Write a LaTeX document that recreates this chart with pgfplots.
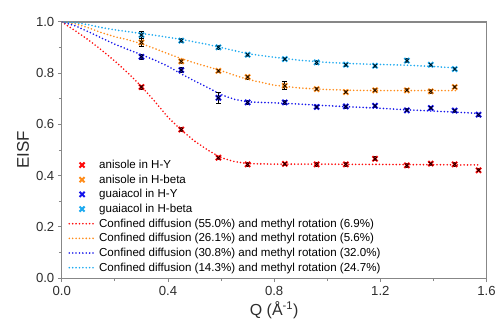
\documentclass[border=0pt]{standalone}
\usepackage{pgfplots}
\usepackage{pgfplotstable}
\pgfplotsset{compat=1.18}
\usepackage{fontspec}
\setmainfont{Liberation Sans}
\definecolor{cred}{RGB}{255,10,10}
\definecolor{corange}{RGB}{255,140,26}
\definecolor{cblue}{RGB}{20,20,235}
\definecolor{ccyan}{RGB}{30,170,240}
\definecolor{axgray}{RGB}{135,135,135}
\definecolor{txt}{RGB}{45,45,45}
\tikzset{fitline/.style={line width=1.8pt, line cap=round, dash pattern=on 0pt off 3.4pt}}

% data: Q EISF err
\pgfplotstableread{
x y e
0.30 0.746 0.008
0.45 0.580 0.007
0.59 0.470 0.007
0.70 0.444 0.006
0.84 0.446 0.006
0.96 0.444 0.006
1.07 0.444 0.006
1.18 0.466 0.008
1.30 0.440 0.006
1.39 0.447 0.006
1.48 0.444 0.006
1.57 0.421 0.006
}\anisoleHY
\pgfplotstableread{
x y e
0.30 0.920 0.014
0.45 0.846 0.008
0.59 0.809 0.006
0.70 0.785 0.008
0.84 0.751 0.016
0.96 0.738 0.006
1.07 0.726 0.006
1.18 0.733 0.006
1.30 0.733 0.006
1.39 0.729 0.006
1.48 0.746 0.006
}\anisoleHB
\pgfplotstableread{
x y e
0.30 0.864 0.010
0.45 0.812 0.010
0.59 0.704 0.022
0.70 0.686 0.006
0.84 0.686 0.008
0.96 0.668 0.006
1.07 0.670 0.006
1.18 0.673 0.007
1.30 0.655 0.006
1.39 0.664 0.006
1.48 0.654 0.006
1.57 0.638 0.006
}\guaiacolHY
\pgfplotstableread{
x y e
0.30 0.949 0.014
0.45 0.927 0.008
0.59 0.901 0.008
0.70 0.872 0.006
0.84 0.855 0.006
0.96 0.842 0.006
1.07 0.833 0.006
1.18 0.829 0.006
1.30 0.849 0.008
1.39 0.833 0.006
1.48 0.816 0.006
}\guaiacolHB

\begin{document}
\begin{tikzpicture}
\begin{axis}[
  scale only axis,
  width=426pt, height=257pt,
  xmin=0, xmax=1.6, ymin=0, ymax=1.0,
  xtick={0,0.4,0.8,1.2,1.6},
  ytick={0,0.2,0.4,0.6,0.8,1.0},
  minor x tick num=1, minor y tick num=1,
  xtick pos=lower, ytick pos=left,
  tick align=outside,
  major tick length=4pt, minor tick length=3pt,
  axis line style={axgray, line width=1.2pt},
  every tick/.style={axgray, line width=0.9pt},
  /pgf/number format/assume math mode=true,
  /pgf/number format/.cd, fixed, fixed zerofill, precision=1, /pgfplots/.cd,
  tick label style={font=\fontsize{13.2}{15}\selectfont\color{txt}},
  xticklabel style={yshift=-1pt},
  xlabel={Q (Å\textsuperscript{-1})},
  ylabel={EISF},
  xlabel style={font=\fontsize{16}{18}\selectfont\color{txt}, yshift=1pt},
  ylabel style={font=\fontsize{17}{19}\selectfont\color{txt}},
  legend style={at={(0.008,0.477)}, anchor=north west, draw=none, fill=none,
    font=\fontsize{11.6}{13}\selectfont, row sep=0.8pt,
    /tikz/column sep=2pt},
  legend cell align=left,
  legend image code/.code={\draw[mark repeat=2,mark phase=2,#1] plot coordinates {(0cm,0cm) (0.45cm,0cm) (0.88cm,0cm)};},
  pts/.style={only marks, mark=x, mark size=3.6pt, mark options={line width=2pt}},
  ebar/.style={error bars/.cd, y dir=both, y explicit,
    error bar style={black, line width=0.7pt},
    error mark options={rotate=90, mark size=2.4pt, black, line width=0.8pt}},
  blk/.style={only marks, mark=x, mark size=2.6pt, mark options={line width=0.7pt, black}, forget plot},
]
% legend images
\addlegendimage{pts, color=cred}
\addlegendimage{pts, color=corange}
\addlegendimage{pts, color=cblue}
\addlegendimage{pts, color=ccyan}
\addlegendimage{legend image code/.code={\draw[fitline, draw=cred] (0cm,0cm) -- (0.88cm,0cm);}}
\addlegendimage{legend image code/.code={\draw[fitline, draw=corange] (0cm,0cm) -- (0.88cm,0cm);}}
\addlegendimage{legend image code/.code={\draw[fitline, draw=cblue] (0cm,0cm) -- (0.88cm,0cm);}}
\addlegendimage{legend image code/.code={\draw[fitline, draw=ccyan] (0cm,0cm) -- (0.88cm,0cm);}}

% fitted curves
\addplot[fitline, draw=cred, forget plot] coordinates {
(0,1.0) (0.05,0.966) (0.1,0.93) (0.15,0.89) (0.2,0.847) (0.25,0.8) (0.3,0.748)
(0.35,0.69) (0.4,0.628) (0.45,0.578) (0.5,0.535) (0.55,0.5) (0.6,0.47) (0.65,0.455)
(0.7,0.447) (0.8,0.445) (0.9,0.445) (1.0,0.445) (1.1,0.444) (1.2,0.444) (1.3,0.443)
(1.4,0.443) (1.5,0.442) (1.57,0.442)};
\addplot[fitline, draw=corange, forget plot] coordinates {
(0,1.0) (0.05,0.993) (0.1,0.977) (0.15,0.958) (0.2,0.942) (0.25,0.93) (0.3,0.915)
(0.35,0.896) (0.4,0.876) (0.45,0.857) (0.5,0.84) (0.55,0.825) (0.6,0.81) (0.65,0.792)
(0.7,0.776) (0.8,0.753) (0.9,0.742) (1.0,0.736) (1.1,0.733) (1.2,0.732) (1.3,0.732)
(1.4,0.732) (1.49,0.732)};
\addplot[fitline, draw=cblue, forget plot] coordinates {
(0,1.0) (0.05,0.985) (0.1,0.962) (0.15,0.937) (0.2,0.913) (0.25,0.892) (0.3,0.872)
(0.35,0.851) (0.4,0.827) (0.45,0.797) (0.5,0.77) (0.55,0.744) (0.6,0.716) (0.65,0.698)
(0.7,0.688) (0.8,0.684) (0.9,0.679) (1.0,0.673) (1.1,0.668) (1.2,0.663) (1.3,0.657)
(1.4,0.652) (1.5,0.647) (1.57,0.643)};
\addplot[fitline, draw=ccyan, forget plot] coordinates {
(0,1.0) (0.05,0.997) (0.1,0.989) (0.15,0.978) (0.2,0.969) (0.25,0.962) (0.3,0.955)
(0.35,0.948) (0.4,0.94) (0.45,0.932) (0.5,0.922) (0.55,0.912) (0.6,0.9) (0.65,0.888)
(0.7,0.876) (0.8,0.862) (0.9,0.85) (1.0,0.842) (1.1,0.837) (1.2,0.834) (1.3,0.831)
(1.4,0.826) (1.49,0.82)};

% data points
\addplot[pts, color=cred, forget plot, ebar] table[x=x, y=y, y error=e] {\anisoleHY};
\addplot[blk] table[x=x, y=y] {\anisoleHY};
\addplot[pts, color=corange, forget plot, ebar] table[x=x, y=y, y error=e] {\anisoleHB};
\addplot[blk] table[x=x, y=y] {\anisoleHB};
\addplot[pts, color=cblue, forget plot, ebar] table[x=x, y=y, y error=e] {\guaiacolHY};
\addplot[blk] table[x=x, y=y] {\guaiacolHY};
\addplot[pts, color=ccyan, forget plot, ebar] table[x=x, y=y, y error=e] {\guaiacolHB};
\addplot[blk] table[x=x, y=y] {\guaiacolHB};

\legend{anisole in H-Y, anisole in H-beta, guaiacol in H-Y, guaiacol in H-beta,
Confined diffusion (55.0\%) and methyl rotation (6.9\%),
Confined diffusion (26.1\%) and methyl rotation (5.6\%),
Confined diffusion (30.8\%) and methyl rotation (32.0\%),
Confined diffusion (14.3\%) and methyl rotation (24.7\%)}
\end{axis}
\path ([xshift=-62pt,yshift=22pt]current axis.north west) rectangle ([xshift=11pt,yshift=-52pt]current axis.south east);
\end{tikzpicture}
\end{document}
